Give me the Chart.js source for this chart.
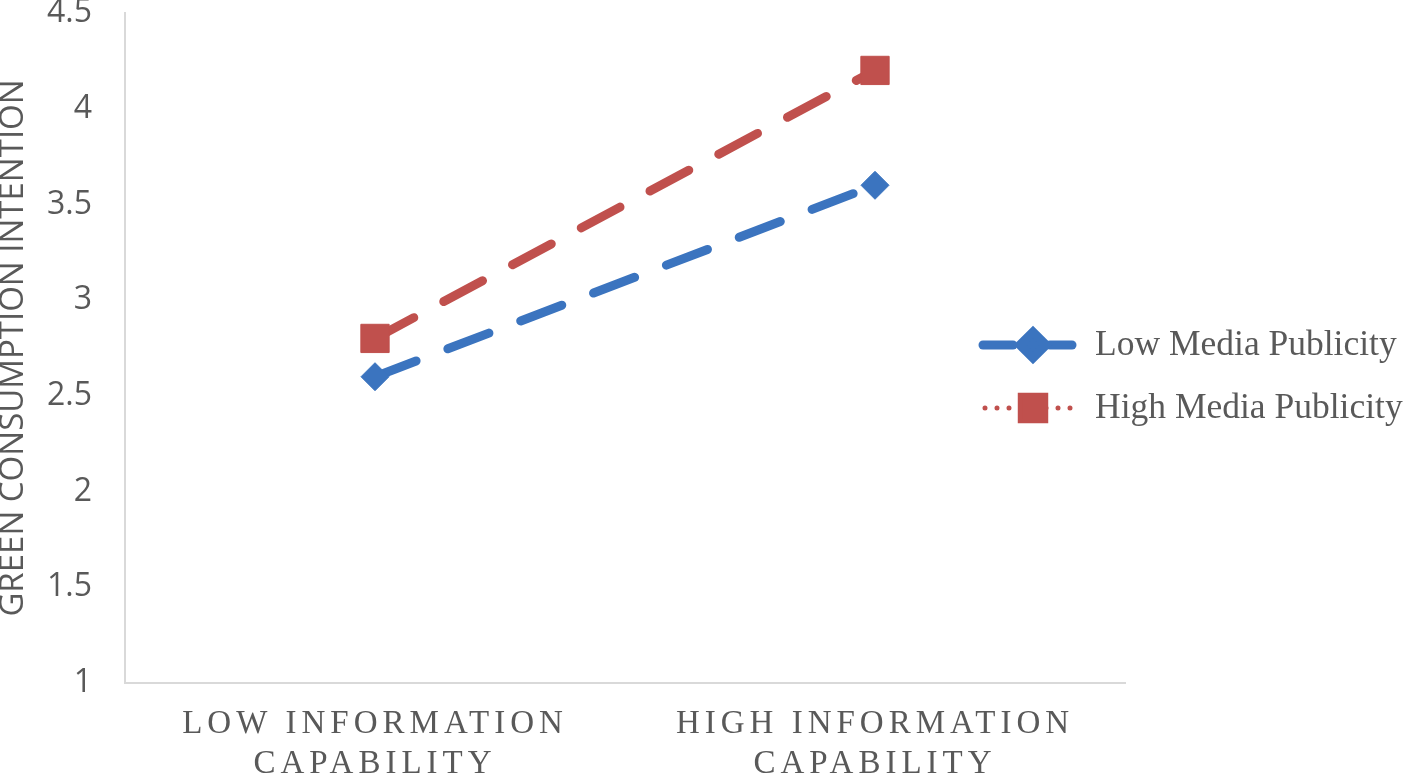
<!DOCTYPE html>
<html>
<head>
<meta charset="utf-8">
<script src="https://cdn.jsdelivr.net/npm/chart.js@4/dist/chart.umd.min.js"></script>
<style>
  html, body { margin: 0; padding: 0; background: #ffffff; }
  #wrap { width: 1406px; height: 775px; position: relative; }
</style>
</head>
<body>
<div id="wrap"><canvas id="c" width="1406" height="775"></canvas></div>
<script>
const categories = [["LOW INFORMATION", "CAPABILITY"], ["HIGH INFORMATION", "CAPABILITY"]];
const lowMediaPublicity = [2.6, 3.6];
const highMediaPublicity = [2.8, 4.2];
const seriesNames = ["Low Media Publicity", "High Media Publicity"];
const yTickValues = [1, 1.5, 2, 2.5, 3, 3.5, 4, 4.5];
const yTickLabels = ["1", "1.5", "2", "2.5", "3", "3.5", "4", "4.5"];
const yTitle = "GREEN CONSUMPTION INTENTION";

const BLUE = "#3B74BF";
const RED = "#C0504D";
const GRAY = "#595959";

const legendPlugin = {
  id: "customLegend",
  afterDraw(chart) {
    const ctx = chart.ctx;
    const items = [
      { y: 345, ds: chart.data.datasets[0], dotted: false, style: "rectRot", r: 13 },
      { y: 408, ds: chart.data.datasets[1], dotted: true, style: "rect", r: 18 }
    ];
    items.forEach(it => {
      ctx.save();
      ctx.strokeStyle = it.ds.borderColor;
      ctx.lineCap = "round";
      if (it.dotted) {
        ctx.lineWidth = 5;
        ctx.setLineDash([0, 12]);
        ctx.beginPath(); ctx.moveTo(985, it.y); ctx.lineTo(1020, it.y); ctx.stroke();
        ctx.beginPath(); ctx.moveTo(1046, it.y); ctx.lineTo(1080, it.y); ctx.stroke();
      } else {
        ctx.lineWidth = 9;
        ctx.setLineDash([]);
        ctx.beginPath(); ctx.moveTo(983, it.y); ctx.lineTo(1013, it.y); ctx.stroke();
        ctx.beginPath(); ctx.moveTo(1050, it.y); ctx.lineTo(1072, it.y); ctx.stroke();
      }
      ctx.setLineDash([]);
      ctx.fillStyle = it.ds.pointBackgroundColor;
      ctx.strokeStyle = it.ds.pointBorderColor;
      Chart.helpers.drawPoint(ctx, { pointStyle: it.style, radius: it.r, borderWidth: 1, rotation: 0 }, 1033, it.y);
      ctx.fillStyle = GRAY;
      ctx.font = "35.5px 'Liberation Serif'";
      ctx.textAlign = "left";
      ctx.textBaseline = "middle";
      ctx.fillText(it.ds.label, 1095, it.y + 1);
      ctx.restore();
    });
  }
};

const spacingPlugin = {
  id: "letterSpacing",
  beforeDraw(chart) {
    const xs = chart.scales.x;
    if (!xs._wrapped) {
      const orig = xs.drawLabels;
      xs.drawLabels = function (area) {
        this.ctx.save();
        this.ctx.letterSpacing = "5px";
        orig.call(this, area);
        this.ctx.restore();
      };
      xs._wrapped = true;
    }
  }
};

new Chart(document.getElementById("c"), {
  type: "line",
  data: {
    labels: categories,
    datasets: [
      {
        label: seriesNames[0],
        data: lowMediaPublicity,
        borderColor: BLUE,
        backgroundColor: BLUE,
        pointBackgroundColor: BLUE,
        pointBorderColor: BLUE,
        borderWidth: 9,
        borderDash: [44, 34],
        borderCapStyle: "round",
        pointStyle: "rectRot",
        pointRadius: 14,
        pointBorderWidth: 1,
        fill: false,
        tension: 0
      },
      {
        label: seriesNames[1],
        data: highMediaPublicity,
        borderColor: RED,
        backgroundColor: RED,
        pointBackgroundColor: RED,
        pointBorderColor: RED,
        borderWidth: 9,
        borderDash: [44, 34],
        borderCapStyle: "round",
        pointStyle: "rect",
        pointRadius: 20,
        pointBorderWidth: 1,
        fill: false,
        tension: 0
      }
    ]
  },
  options: {
    responsive: false,
    animation: false,
    devicePixelRatio: 1,
    layout: { autoPadding: false, padding: { top: 13, right: 281, left: 0, bottom: 0 } },
    plugins: {
      legend: { display: false },
      tooltip: { enabled: false }
    },
    scales: {
      x: {
        offset: true,
        grid: { display: false, drawTicks: false },
        border: { display: true, color: "#D9D9D9", width: 2 },
        ticks: {
          color: GRAY,
          font: { family: "'Liberation Serif'", size: 33, lineHeight: 1.2 },
          padding: 22,
          maxRotation: 0,
          autoSkip: false
        },
        afterFit(scale) { scale.height = 92; }
      },
      y: {
        min: 1,
        max: 4.5,
        afterBuildTicks(scale) { scale.ticks = yTickValues.map(v => ({ value: v })); },
        grid: { display: false, drawTicks: false },
        border: { display: true, color: "#D9D9D9", width: 2 },
        ticks: {
          color: GRAY,
          font: { family: "'Open Sans'", size: 32, lineHeight: 0.8 },
          padding: 33,
          callback: (v, i) => yTickLabels[i]
        },
        title: {
          display: true,
          text: yTitle,
          color: GRAY,
          font: { family: "'Open Sans'", size: 33, lineHeight: 0.8 },
          padding: { top: 0, bottom: 0 }
        },
        afterFit(scale) {
          scale.width = 125;
          scale.paddingTop = 0;
          scale.paddingBottom = 0;
        }
      }
    }
  },
  plugins: [spacingPlugin, legendPlugin]
});
</script>
</body>
</html>
